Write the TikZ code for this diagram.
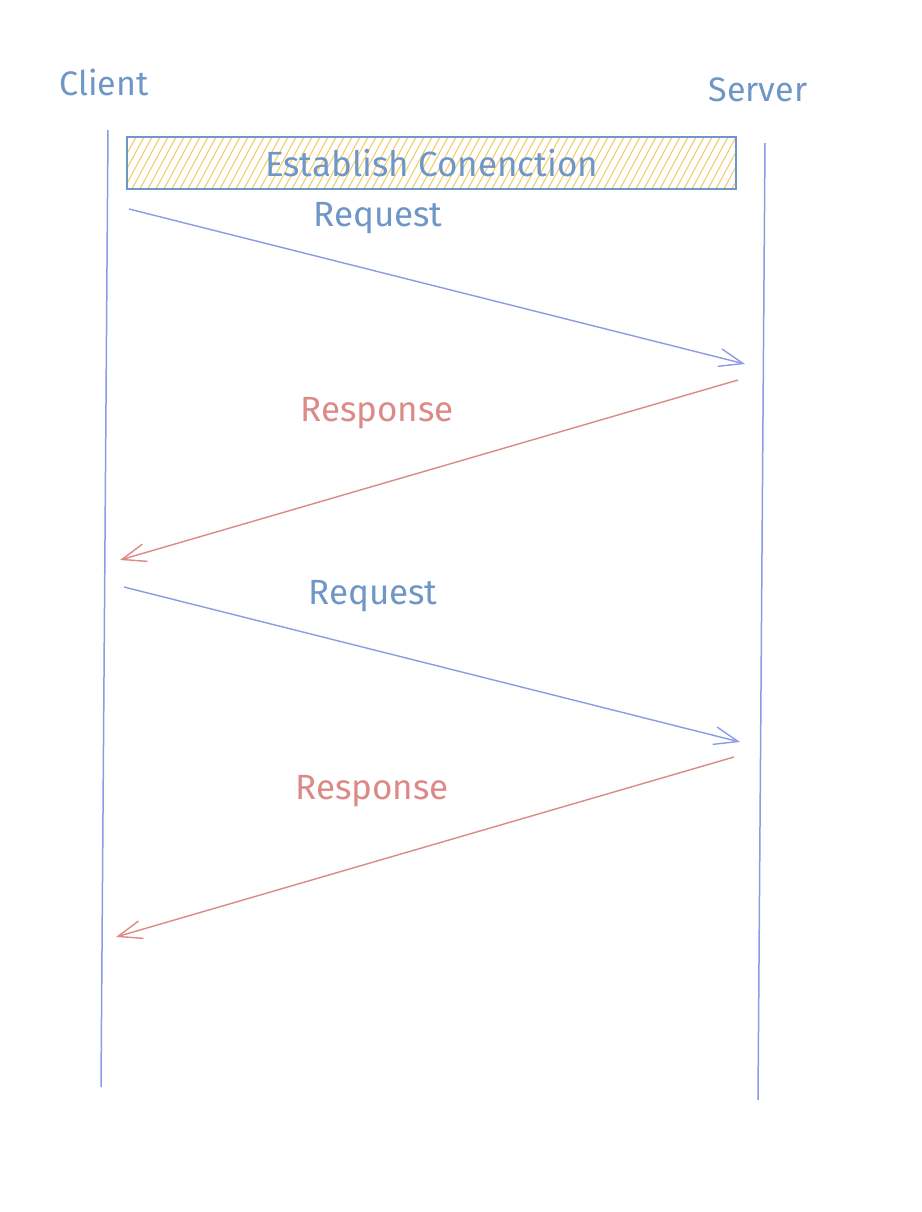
\documentclass[tikz,border=0pt]{standalone}
\usepackage{fontspec}
\setmainfont{Fira Sans}
\usepackage{tikz}
\usetikzlibrary{arrows.meta,calc}

\definecolor{lifeblue}{HTML}{8C9BE6}
\definecolor{textblue}{HTML}{6E96C6}
\definecolor{respred}{HTML}{DB8A86}
\definecolor{hatchyellow}{HTML}{F4C860}

\tikzset{
    lifeline/.style={draw=lifeblue, line width=0.75pt},
    reqline/.style={draw=lifeblue, line width=0.7pt, -{Straight Barb[length=12pt,width=9pt]}},
    respline/.style={draw=respred, line width=0.7pt, -{Straight Barb[length=12pt,width=9pt]}},
    actor/.style={text=textblue, font=\fontsize{17}{20}\selectfont},
    reqlabel/.style={text=textblue, font=\fontsize{17.5}{20}\selectfont},
    resplabel/.style={text=respred, font=\fontsize{17.5}{20}\selectfont}
}

\begin{document}
\begin{tikzpicture}[x=0.5pt, y=-0.5pt]

    %% Background
    \useasboundingbox[fill=white] (0,0) rectangle (922,1212);

    %% Actors
    \node[actor] (client) at (104,82) {Client};
    \node[actor] (server) at (758,90) {Server};

    %% Lifelines
    \coordinate (ctop) at (108,130);
    \coordinate (cbot) at (101,1087);
    \coordinate (stop) at (765,143);
    \coordinate (sbot) at (758,1100);
    \draw[lifeline] (ctop) -- (cbot);
    \draw[lifeline] (stop) -- (sbot);

    %% Connection box
    \begin{scope}
        \clip (127,137) rectangle (736,189);
        \foreach \x in {100,108,...,760}
        {
        \draw[hatchyellow, line width=0.5pt] (\x,189) -- (\x+28,137);
        }
    \end{scope}
    \node[draw=textblue, line width=0.7pt, minimum width=304.5pt, minimum height=26pt,
          inner sep=0pt, text=textblue, font=\fontsize{17.5}{20}\selectfont] (conn) at (431.5,163) {Establish Conenction};

    %% Messages
    \coordinate (req1a) at (129,209);
    \coordinate (req1b) at (745,364);
    \coordinate (resp1a) at (738,380);
    \coordinate (resp1b) at (120,560);
    \coordinate (req2a) at (124,587);
    \coordinate (req2b) at (740,742);
    \coordinate (resp2a) at (734,757);
    \coordinate (resp2b) at (116,937);

    \draw[reqline] (req1a) -- (req1b);
    \draw[respline] (resp1a) -- (resp1b);
    \draw[reqline] (req2a) -- (req2b);
    \draw[respline] (resp2a) -- (resp2b);

    \node[reqlabel] (req1) at (378,218) {Request};
    \node[resplabel] (resp1) at (377,413) {Response};
    \node[reqlabel] (req2) at (373,596) {Request};
    \node[resplabel] (resp2) at (372,791) {Response};

\end{tikzpicture}
\end{document}
